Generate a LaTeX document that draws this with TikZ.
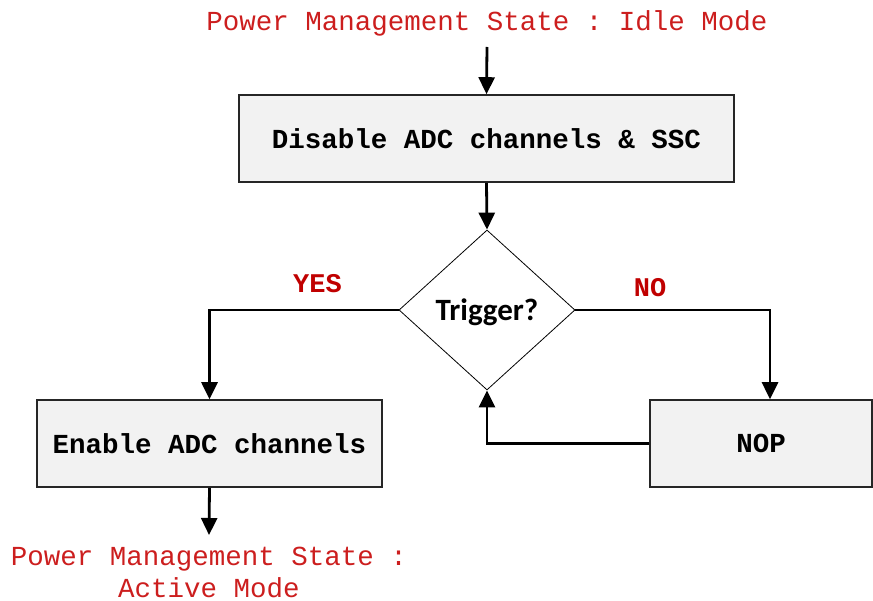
\documentclass[tikz,border=0pt]{standalone}
\usepackage{fontspec}
\setmonofont{Liberation Mono}
\newfontfamily\calibrilike{Carlito}
\usetikzlibrary{arrows.meta,shapes.geometric}
\definecolor{statered}{RGB}{204,30,30}
\definecolor{branchred}{RGB}{192,0,0}
\definecolor{boxfill}{RGB}{242,242,242}
\begin{document}
\begin{tikzpicture}[x=1pt,y=-1pt,
  flow/.style={line width=2.8pt,-{Triangle[length=17pt,width=16pt]}},
  stepbox/.style={draw=black!85,line width=1.6pt,fill=boxfill,inner sep=0pt,
    font=\fontsize{27.5}{32}\selectfont\ttfamily\bfseries},
  statetext/.style={inner sep=0pt,text=statered,font=\fontsize{27.5}{32}\selectfont\ttfamily},
  branch/.style={inner sep=0pt,text=branchred,font=\fontsize{27}{30}\selectfont\ttfamily\bfseries}]
\useasboundingbox (0,0) rectangle (873,601);

% entry state
\node[statetext,anchor=base] (idle) at (487,31) {Power Management State : Idle Mode};
\coordinate (idleend) at (487,47);

% action boxes
\node[stepbox,minimum width=495pt,minimum height=87pt] (disable) at (486.5,138.5) {Disable ADC channels \& SSC};
\node[stepbox,minimum width=345pt,minimum height=87pt] (enable) at (209.5,443.5) {Enable ADC channels};
\node[stepbox,minimum width=222pt,minimum height=87pt] (nop) at (761,443.5) {NOP};

% decision
\node[diamond,draw,line width=0.8pt,aspect=1.1,minimum width=176pt,minimum height=160pt,inner sep=0pt] (trig) at (487,310) {};
\node[inner sep=0pt,anchor=base,font=\fontsize{31}{34}\selectfont\calibrilike\bfseries] (trigtext) at (487,321) {Trigger?};

% branch labels
\node[branch,anchor=base] (yes) at (317.5,293) {YES};
\node[branch,anchor=base] (no) at (650,297) {NO};

% exit state
\node[statetext,anchor=base] (active1) at (209,565) {Power Management State :};
\node[statetext,anchor=base] (active2) at (209,597) {Active Mode};
\coordinate (activetop) at (209,535);

% connectors
\draw[flow] (idleend) -- (disable.north);
\draw[flow] (disable.south) -- (trig.north);
\draw[flow] (trig.west) -| (enable.north);
\draw[flow] (trig.east) -| (nop.north -| 770,0);
\draw[flow] (nop.west) -| (trig.south);
\draw[flow] (enable.south) -- (activetop);
\end{tikzpicture}
\end{document}
